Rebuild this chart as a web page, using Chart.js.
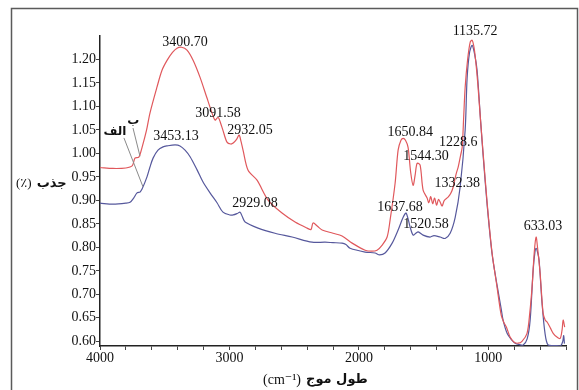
<!DOCTYPE html>
<html>
<head>
<meta charset="utf-8">
<script src="https://cdn.jsdelivr.net/npm/chart.js@4/dist/chart.umd.min.js"></script>
<style>
  html, body { margin: 0; padding: 0; background: #fff; }
  #wrap { width: 579px; height: 390px; position: relative; }
</style>
</head>
<body>
<div id="wrap"><canvas id="ftir"></canvas></div>
<script>
// spectrum ب (red)
const redWave = [4000, 3900, 3800, 3750, 3730, 3700, 3675, 3640, 3614, 3560, 3521, 3482, 3440, 3405, 3370, 3328, 3280, 3227, 3176, 3137, 3111, 3088, 3070, 3050, 3019, 2990, 2971, 2945, 2925, 2910, 2895, 2856, 2787, 2700, 2594, 2493, 2400, 2370, 2354, 2320, 2284, 2200, 2130, 2052, 1952, 1900, 1860, 1820, 1782, 1759, 1720, 1697, 1675, 1658, 1640, 1620, 1600, 1581, 1565, 1550, 1527, 1504, 1473, 1460, 1445, 1430, 1415, 1400, 1385, 1370, 1357, 1340, 1311, 1290, 1272, 1250, 1233, 1215, 1202, 1190, 1179, 1160, 1140, 1125, 1110, 1095, 1079, 1060, 1040, 1009, 971, 933, 900, 880, 860, 832, 800, 770, 740, 701, 680, 662, 645, 631, 620, 600, 577, 560, 546, 520, 499, 470, 445, 430, 422, 410];
const redAbs = [0.970, 0.968, 0.969, 0.974, 0.990, 0.992, 1.013, 1.050, 1.086, 1.141, 1.177, 1.198, 1.215, 1.224, 1.226, 1.220, 1.198, 1.162, 1.120, 1.088, 1.071, 1.077, 1.066, 1.049, 1.024, 1.020, 1.022, 1.030, 1.039, 1.025, 1.007, 0.964, 0.943, 0.900, 0.873, 0.854, 0.841, 0.838, 0.852, 0.845, 0.837, 0.830, 0.824, 0.809, 0.794, 0.792, 0.794, 0.805, 0.822, 0.858, 0.937, 1.007, 1.028, 1.032, 1.028, 1.013, 0.960, 0.932, 0.955, 0.979, 0.975, 0.922, 0.905, 0.895, 0.908, 0.893, 0.905, 0.890, 0.902, 0.895, 0.888, 0.900, 0.907, 0.915, 0.928, 0.955, 0.971, 0.995, 1.013, 1.080, 1.141, 1.200, 1.237, 1.241, 1.225, 1.190, 1.140, 1.070, 1.000, 0.894, 0.788, 0.716, 0.655, 0.640, 0.630, 0.609, 0.598, 0.596, 0.600, 0.617, 0.660, 0.716, 0.790, 0.822, 0.800, 0.745, 0.660, 0.645, 0.641, 0.628, 0.617, 0.609, 0.606, 0.625, 0.645, 0.630];

// spectrum الف (blue)
const blueWave = [4000, 3900, 3800, 3768, 3740, 3714, 3690, 3675, 3637, 3614, 3590, 3552, 3513, 3482, 3420, 3382, 3343, 3304, 3250, 3204, 3150, 3096, 3050, 2995, 2971, 2940, 2918, 2900, 2879, 2779, 2648, 2516, 2362, 2261, 2200, 2130, 2100, 2068, 1952, 1875, 1840, 1798, 1743, 1697, 1658, 1635, 1604, 1581, 1560, 1542, 1504, 1450, 1420, 1372, 1334, 1295, 1256, 1218, 1179, 1164, 1145, 1125, 1105, 1087, 1060, 1040, 1009, 971, 933, 900, 886, 855, 820, 793, 760, 731, 700, 677, 654, 640, 631, 620, 608, 585, 562, 538, 480, 440, 425, 418, 412];
const blueAbs = [0.894, 0.892, 0.894, 0.896, 0.905, 0.916, 0.918, 0.924, 0.950, 0.971, 0.990, 1.007, 1.014, 1.016, 1.018, 1.016, 1.007, 0.993, 0.965, 0.939, 0.916, 0.895, 0.875, 0.869, 0.869, 0.872, 0.875, 0.865, 0.854, 0.841, 0.830, 0.822, 0.811, 0.811, 0.810, 0.809, 0.806, 0.798, 0.790, 0.788, 0.784, 0.788, 0.809, 0.837, 0.864, 0.873, 0.843, 0.826, 0.830, 0.833, 0.826, 0.822, 0.825, 0.822, 0.819, 0.830, 0.864, 0.928, 1.050, 1.160, 1.215, 1.230, 1.210, 1.177, 1.070, 0.995, 0.890, 0.786, 0.720, 0.668, 0.645, 0.617, 0.603, 0.596, 0.593, 0.592, 0.605, 0.645, 0.751, 0.790, 0.798, 0.790, 0.773, 0.681, 0.617, 0.592, 0.591, 0.591, 0.600, 0.612, 0.595];

const yTicks = [0.60, 0.65, 0.70, 0.75, 0.80, 0.85, 0.90, 0.95, 1.00, 1.05, 1.10, 1.15, 1.20];
const xTicks = [4000, 3800, 3600, 3400, 3200, 3000, 2800, 2600, 2400, 2200, 2000, 1800, 1600, 1400, 1200, 1000, 800, 600, 400];
const xLabels = [4000, 3000, 2000, 1000];

// peak labels, anchored at (wavenumber, absorbance) of the text centre
const peakText = ['3400.70', '3453.13', '3091.58', '2932.05', '2929.08', '1650.84', '1544.30', '1228.6', '1332.38', '1637.68', '1520.58', '1135.72', '633.03'];
const peakWave = [3343, 3413, 3088, 2841, 2802, 1604, 1481, 1233, 1241, 1682, 1481, 1102, 577];
const peakAbs = [1.237, 1.037, 1.086, 1.050, 0.893, 1.044, 0.993, 1.024, 0.937, 0.886, 0.848, 1.261, 0.844];

// curve names with leader lines
const seriesNames = ['ب', 'الف'];
const nameWave = [3743, 3884];
const nameAbs = [1.069, 1.046];
const leaderFrom = [[3745, 1.054], [3815, 1.033]];
const leaderTo = [[3691, 0.994], [3668, 0.929]];

// axis titles: unit drawn on the left, persian word on the right
const yTitleUnit = '(٪)';
const yTitleWord = 'جذب';
const xTitleUnit = '(cm⁻¹)';
const xTitleWord = 'طول موج';

const serif = '"Liberation Serif", "Times New Roman", serif';
const arabicBold = 'bold 13px "DejaVu Sans", sans-serif';

function toPoints(xs, ys) {
    return xs.map((x, i) => ({ x, y: ys[i] }));
}

function drawTitle(ctx, unit, word, left, midY, unitSize) {
    ctx.textAlign = 'left';
    ctx.font = unitSize + 'px ' + serif + ', "DejaVu Sans"';
    ctx.fillText(unit, left, midY);
    const gap = ctx.measureText(unit).width + 5;
    ctx.font = arabicBold;
    ctx.fillText(word, left + gap, midY);
}

const decorations = {
    id: 'decorations',
    beforeDraw(chart) {
        const ctx = chart.ctx;
        ctx.save();
        ctx.fillStyle = '#fff';
        ctx.fillRect(0, 0, chart.width, chart.height);
        ctx.strokeStyle = '#5a5a5a';
        ctx.lineWidth = 1.5;
        ctx.strokeRect(11.5, 8.5, 566, 400);
        ctx.restore();
    },
    afterDraw(chart) {
        const ctx = chart.ctx;
        const xs = chart.scales.x;
        const ys = chart.scales.y;
        ctx.save();
        ctx.direction = 'ltr';
        ctx.fillStyle = '#111';
        ctx.textAlign = 'center';
        ctx.textBaseline = 'middle';
        ctx.font = '14px ' + serif;
        peakText.forEach((t, i) => {
            ctx.fillText(t, xs.getPixelForValue(peakWave[i]), ys.getPixelForValue(peakAbs[i]));
        });

        ctx.strokeStyle = '#8a8a8a';
        ctx.lineWidth = 1;
        leaderFrom.forEach((p, i) => {
            ctx.beginPath();
            ctx.moveTo(xs.getPixelForValue(p[0]), ys.getPixelForValue(p[1]));
            ctx.lineTo(xs.getPixelForValue(leaderTo[i][0]), ys.getPixelForValue(leaderTo[i][1]));
            ctx.stroke();
        });
        ctx.font = 'bold 12px "DejaVu Sans", sans-serif';
        seriesNames.forEach((t, i) => {
            ctx.fillText(t, xs.getPixelForValue(nameWave[i]), ys.getPixelForValue(nameAbs[i]));
        });

        drawTitle(ctx, yTitleUnit, yTitleWord, 16, 184, 13);
        drawTitle(ctx, xTitleUnit, xTitleWord, 263, 380, 14);
        ctx.restore();
    }
};

new Chart(document.getElementById('ftir').getContext('2d'), {
    type: 'line',
    data: {
        datasets: [
            { label: 'ب', data: toPoints(redWave, redAbs), borderColor: '#e0585c', borderWidth: 1.2, pointRadius: 0, tension: 0.3, fill: false },
            { label: 'الف', data: toPoints(blueWave, blueAbs), borderColor: '#56589c', borderWidth: 1.2, pointRadius: 0, tension: 0.3, fill: false },
        ],
    },
    options: {
        responsive: true,
        maintainAspectRatio: false,
        animation: false,
        layout: { padding: { left: 0, top: 36, right: 13, bottom: 0 } },
        plugins: { legend: { display: false }, tooltip: { enabled: false } },
        scales: {
            x: {
                type: 'linear',
                reverse: true,
                min: 400,
                max: 4000,
                afterBuildTicks: (scale) => { scale.ticks = xTicks.map((v) => ({ value: v })); },
                afterFit: (scale) => { scale.height = 44; },
                grid: { drawOnChartArea: false, drawTicks: true, tickLength: 4, color: '#444' },
                border: { display: true, color: '#222', width: 1.5 },
                ticks: {
                    autoSkip: false,
                    maxRotation: 0,
                    padding: 0,
                    color: '#111',
                    font: { family: serif, size: 14 },
                    callback: (v) => (xLabels.includes(v) ? String(v) : ''),
                },
            },
            y: {
                min: 0.59,
                max: 1.25,
                afterBuildTicks: (scale) => { scale.ticks = yTicks.map((v) => ({ value: v })); },
                afterFit: (scale) => { scale.width = 100; },
                grid: { drawOnChartArea: false, drawTicks: true, tickLength: 4, color: '#444' },
                border: { display: true, color: '#222', width: 1.5 },
                ticks: {
                    padding: 0,
                    color: '#111',
                    font: { family: serif, size: 14 },
                    callback: (v) => Number(v).toFixed(2),
                },
            },
        },
    },
    plugins: [decorations],
});
</script>
</body>
</html>
